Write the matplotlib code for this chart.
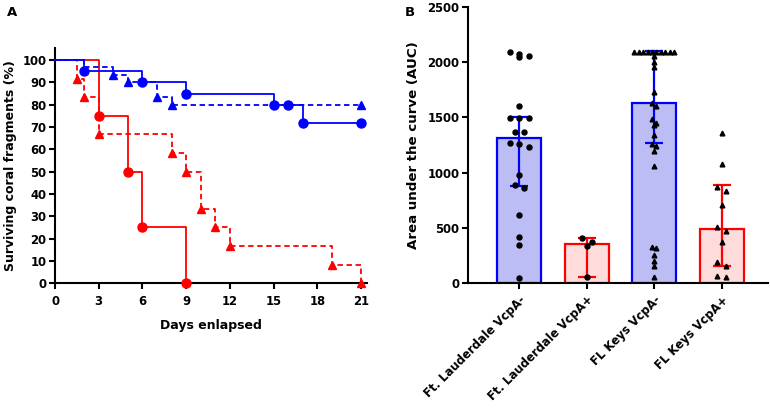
import numpy as np
import matplotlib
matplotlib.use("Agg")
import matplotlib.pyplot as plt

plt.rcParams['font.family'] = ['DejaVu Sans']
plt.rcParams['font.weight'] = 'bold'

# ---------------- Panel A data (Kaplan-Meier steps) ----------------
fl_neg_days = [0, 2, 6, 9, 15, 17, 21]
fl_neg_surv = [100, 95, 90, 85, 80, 72, 72]
fl_neg_marker_days = [2, 6, 9, 15, 16, 17, 21]

fl_pos_days = [0, 3, 5, 6, 9]
fl_pos_surv = [100, 75, 50, 25, 0]
fl_pos_marker_days = [3, 5, 6, 9]

keys_neg_days = [0, 2, 4, 5, 7, 8, 21]
keys_neg_surv = [100, 96.7, 93.3, 90, 83.3, 80, 80]
keys_neg_marker_days = [4, 5, 7, 8, 21]

keys_pos_days = [0, 1.5, 2, 3, 8, 9, 10, 11, 12, 19, 21]
keys_pos_surv = [100, 91.7, 83.3, 66.7, 58.3, 50, 33.3, 25, 16.7, 8.3, 0]
keys_pos_marker_days = [1.5, 2, 3, 8, 9, 10, 11, 12, 19, 21]

x_ticks_A = [0, 3, 6, 9, 12, 15, 18, 21]
y_ticks_A = list(range(0, 101, 10))

# ---------------- Panel B data (AUC) ----------------
categories = ["Ft. Lauderdale VcpA-", "Ft. Lauderdale VcpA+", "FL Keys VcpA-", "FL Keys VcpA+"]
medians = [1315, 355, 1626, 490]
q1 = [880, 58, 1265, 158]
q3 = [1500, 408, 2100, 888]

auc_fl_neg = [2092, 2071, 2056, 2042, 1602, 1494, 1494, 1494, 1370, 1370,
              1270, 1258, 1234, 978, 885, 858, 617, 415, 349, 51]
auc_fl_pos = [406, 376, 340, 54]
auc_keys_neg = [2090] * 10 + [2050, 1996, 1951, 1725, 1631, 1602, 1481, 1445, 1430,
                              1340, 1256, 1240, 1198, 1060, 325, 316, 256, 204, 156, 60]
auc_keys_pos = [1355, 1075, 873, 834, 707, 511, 475, 370, 195, 156, 69, 54]
y_ticks_B = [0, 500, 1000, 1500, 2000, 2500]

BLUE = "#0000FF"
RED = "#FF0000"
BLUE_FILL = "#BDBDF6"
RED_FILL = "#FFDCDC"

W, H = 770, 417
fig = plt.figure(figsize=(W / 100, H / 100), dpi=100)

def ax_rect(x0, y0, x1, y1):
    return [x0 / W, 1 - y1 / H, (x1 - x0) / W, (y1 - y0) / H]

TICK_FS = 8.4
LABEL_FS = 9.0

# ---------------- Panel A ----------------
axA = fig.add_axes(ax_rect(55, 48, 367, 283.3))

def step_value(days, surv, t):
    idx = np.searchsorted(days, t, side='right') - 1
    return surv[idx]

series = [
    (keys_pos_days, keys_pos_surv, keys_pos_marker_days, RED, (0, (3, 2)), '^', 6.2),
    (fl_pos_days, fl_pos_surv, fl_pos_marker_days, RED, '-', 'o', 6.5),
    (keys_neg_days, keys_neg_surv, keys_neg_marker_days, BLUE, (0, (3, 2)), '^', 6.2),
    (fl_neg_days, fl_neg_surv, fl_neg_marker_days, BLUE, '-', 'o', 6.5),
]
for days, surv, mdays, col, ls, mk, ms in series:
    axA.step(days, surv, where='post', color=col, linestyle=ls, lw=1.3, clip_on=False, zorder=3)
    my = [step_value(days, surv, t) for t in mdays]
    axA.plot(mdays, my, linestyle='none', marker=mk, ms=ms, color=col, clip_on=False, zorder=4)

axA.set_xlim(0, 21.4)
axA.set_ylim(0, 105.4)
axA.set_xticks(x_ticks_A)
axA.set_yticks(y_ticks_A)
axA.spines['top'].set_visible(False)
axA.spines['right'].set_visible(False)
for s in ['left', 'bottom']:
    axA.spines[s].set_linewidth(1.5)
axA.tick_params(width=1.5, length=4.3, labelsize=TICK_FS, pad=2)
axA.tick_params(axis='x', pad=4)
axA.set_xlabel("Days enlapsed", fontsize=LABEL_FS, fontweight='bold', labelpad=8)
axA.set_ylabel("Surviving coral fragments (%)", fontsize=LABEL_FS, fontweight='bold', labelpad=4)

# ---------------- Panel B ----------------
axB = fig.add_axes(ax_rect(468, 6.7, 768, 283.3))
xpos = np.arange(len(categories))
fills = [BLUE_FILL, RED_FILL, BLUE_FILL, RED_FILL]
edges = [BLUE, RED, BLUE, RED]
axB.bar(xpos, medians, width=0.65, color=fills, edgecolor=edges, linewidth=1.6, zorder=2)
for i in range(len(categories)):
    axB.errorbar(xpos[i], medians[i], yerr=[[medians[i] - q1[i]], [q3[i] - medians[i]]],
                 fmt='none', ecolor=edges[i], elinewidth=1.6, capsize=6.8, capthick=1.6, zorder=3)

def swarm_offsets(vals, spacing, thresh):
    vals = np.asarray(vals, dtype=float)
    order = np.argsort(-vals, kind='stable')
    offs = np.zeros(len(vals))
    groups, cur = [], [order[0]]
    for idx in order[1:]:
        if vals[cur[0]] - vals[idx] < thresh:
            cur.append(idx)
        else:
            groups.append(cur)
            cur = [idx]
    groups.append(cur)
    for g in groups:
        m = len(g)
        for k, i in enumerate(g):
            offs[i] = (k - (m - 1) / 2) * spacing
    return offs

px = 1 / 67.5
points = [(auc_fl_neg, 'o', 3.6, 9.5 * px),
          (auc_fl_pos, 'o', 3.6, 9.5 * px),
          (auc_keys_neg, '^', 3.4, 4.4 * px),
          (auc_keys_pos, '^', 3.4, 9.5 * px)]
for i, (vals, mk, ms, sp) in enumerate(points):
    off = swarm_offsets(vals, sp, 40)
    axB.plot(xpos[i] + off, vals, linestyle='none', marker=mk, ms=ms, color='black', zorder=4, clip_on=False)

axB.set_xlim(-0.76, 3.686)
axB.set_ylim(0, 2500)
axB.set_yticks(y_ticks_B)
axB.set_xticks(xpos)
axB.set_xticklabels(categories, rotation=45, ha='right', rotation_mode='anchor', fontsize=9.2)
axB.spines['top'].set_visible(False)
axB.spines['right'].set_visible(False)
for s in ['left', 'bottom']:
    axB.spines[s].set_linewidth(1.5)
axB.tick_params(width=1.5, length=4.3, labelsize=TICK_FS, pad=2)
axB.tick_params(axis='x', pad=3)
axB.set_ylabel("Area under the curve (AUC)", fontsize=9.6, fontweight='bold', labelpad=5)

fig.text(7 / W, 1 - 12 / H, "A", fontsize=9.5, fontweight='bold', va='center', ha='left')
fig.text(405 / W, 1 - 12 / H, "B", fontsize=9.5, fontweight='bold', va='center', ha='left')

fig.savefig("out.png", dpi=100)
